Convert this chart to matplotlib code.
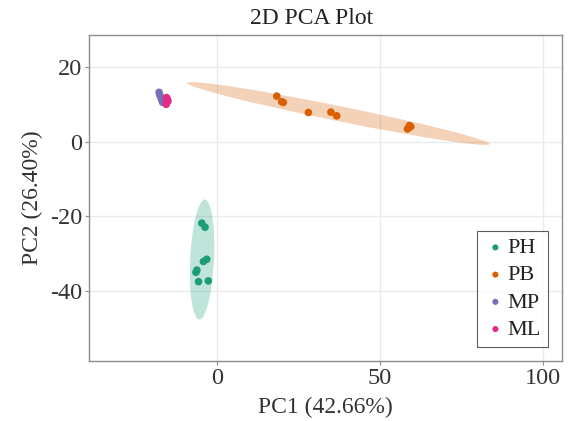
import numpy as np
import matplotlib
matplotlib.use("Agg")
import matplotlib.pyplot as plt
from matplotlib.patches import Ellipse

plt.rcParams['font.family'] = ['Liberation Serif', 'DejaVu Serif']
plt.rcParams['axes.unicode_minus'] = False

groups = ["PH", "PB", "MP", "ML"]
colors = ["#1b9e77", "#d95f02", "#7570b3", "#e7298a"]

ph_x = [-4.7, -3.7, -3.2, -4.2, -6.2, -6.5, -5.7, -2.7]
ph_y = [-21.8, -22.9, -31.5, -32.1, -34.4, -35.0, -37.5, -37.3]
pb_x = [18.3, 19.8, 20.3, 28.0, 34.9, 36.7, 59.0, 58.4, 59.4]
pb_y = [12.3, 10.8, 10.6, 7.9, 8.0, 7.0, 4.4, 3.5, 4.1]
mp_x = [-17.8, -17.6, -17.3, -17.0, -16.7]
mp_y = [13.3, 12.6, 12.0, 11.3, 10.6]
ml_x = [-15.5, -15.2, -15.4, -15.6, -15.1]
ml_y = [11.9, 11.3, 10.7, 10.1, 10.9]

xs = [ph_x, pb_x, mp_x, ml_x]
ys = [ph_y, pb_y, mp_y, ml_y]

x_ticks = [0, 50, 100]
y_ticks = [-40, -20, 0, 20]
ellipse_scale = 2.65

fig = plt.figure(figsize=(5.68, 4.21), dpi=100)
ax = fig.add_axes([89/568, 1-361/421, (562-89)/568, (361-35)/421])

for gx, gy, c in zip(xs, ys, colors):
    gx = np.array(gx); gy = np.array(gy)
    cov = np.cov(gx, gy)
    vals, vecs = np.linalg.eigh(cov)
    order = vals.argsort()[::-1]
    vals = vals[order]; vecs = vecs[:, order]
    angle = np.degrees(np.arctan2(vecs[1, 0], vecs[0, 0]))
    w = 2 * ellipse_scale * np.sqrt(vals[0])
    h = 2 * ellipse_scale * np.sqrt(vals[1])
    e = Ellipse((gx.mean(), gy.mean()), w, h, angle=angle, facecolor=c,
                alpha=0.28, edgecolor='none', zorder=2)
    ax.add_patch(e)

for g, gx, gy, c in zip(groups, xs, ys, colors):
    ax.scatter(gx, gy, s=30, color=c, edgecolors='none', zorder=3, label=g)

ax.set_xlim(-39.3, 105.8)
ax.set_ylim(-58.8, 28.7)
ax.set_xticks(x_ticks)
ax.set_yticks(y_ticks)
ax.grid(True, color='#ebebeb', linewidth=1.0, zorder=0)
ax.set_axisbelow(True)
for s in ax.spines.values():
    s.set_color('#8c8c8c')
    s.set_linewidth(1.0)
ax.tick_params(axis='both', colors='#8c8c8c', labelcolor='#333333',
               labelsize=17.5, length=3, width=0.8, pad=2)

ax.set_xlabel("PC1 (42.66%)", fontsize=17, color='#333333', labelpad=6)
ax.set_ylabel("PC2 (26.40%)", fontsize=17, color='#333333', labelpad=5)
fig.text(312/568, 1-19/421, "2D PCA Plot", ha='center', va='center',
         fontsize=17, color='#222222')

leg = ax.legend(loc='upper left', bbox_to_anchor=(476.5/568, 1-231/421),
                bbox_transform=fig.transFigure, fontsize=16, frameon=True,
                fancybox=False, handletextpad=0.0, borderpad=0.3,
                borderaxespad=0.0, labelspacing=0.3, handlelength=1.1,
                markerscale=0.8)
leg.get_frame().set_edgecolor('#333333')
leg.get_frame().set_linewidth(0.8)
for t in leg.get_texts():
    t.set_color('#222222')

fig.savefig("out.png", dpi=100)
